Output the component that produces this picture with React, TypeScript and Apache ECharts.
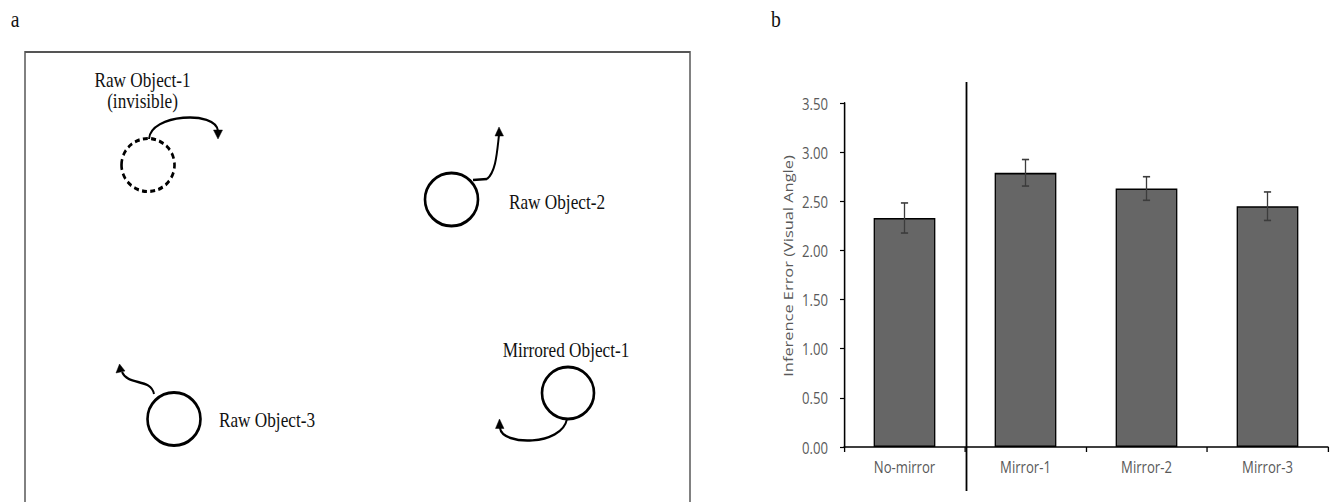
import React, { useEffect, useRef } from "react";
import * as echarts from "echarts";

// ---------- data ----------
const categories = ["No-mirror", "Mirror-1", "Mirror-2", "Mirror-3"];
const meanError = [2.33, 2.79, 2.63, 2.45];
const errorMargin = [0.153, 0.135, 0.12, 0.145];
const yMin = 0;
const yMax = 3.5;
const yStep = 0.5;
const yTitle = "Inference Error (Visual Angle)";
const panelLabels = ["a", "b"];
const objectLabels = ["Raw Object-1", "(invisible)", "Raw Object-2", "Raw Object-3", "Mirrored Object-1"];

// ---------- layout helpers ----------
const S = 0.82; // horizontal squeeze of the whole figure
const W = 1336;
const H = 502;
const IW = W / S;
const X = (v: number) => v / S;

const serif = '"Liberation Serif", "Times New Roman", serif';
const sans = '"Open Sans", "Noto Sans", sans-serif';

function txt(text: string, x: number, y: number, size: number, family: string, color = "#111", extra: any = {}) {
  return {
    type: "text",
    x: X(x),
    y,
    silent: true,
    ...extra,
    style: {
      text,
      fill: color,
      fontSize: size,
      fontFamily: family,
      align: "center",
      verticalAlign: "middle",
      textAlign: "center",
      textVerticalAlign: "middle",
    },
  };
}

function ring(cx: number, cy: number, r: number, dashed = false) {
  return {
    type: "ellipse",
    silent: true,
    shape: { cx: X(cx), cy, rx: X(r), ry: r },
    style: { fill: "none", stroke: "#000", lineWidth: 3.2, lineDash: dashed ? [6, 4] : null },
  };
}

function curve(p: number[][]) {
  const [a, c1, c2, b] = p;
  return {
    type: "bezierCurve",
    silent: true,
    shape: { x1: X(a[0]), y1: a[1], cpx1: X(c1[0]), cpy1: c1[1], cpx2: X(c2[0]), cpy2: c2[1], x2: X(b[0]), y2: b[1] },
    style: { fill: "none", stroke: "#000", lineWidth: 2.4 },
  };
}

function head(pts: number[][]) {
  return {
    type: "polygon",
    silent: true,
    shape: { points: pts.map((q) => [X(q[0]), q[1]]) },
    style: { fill: "#000", stroke: "#000", lineWidth: 0.5 },
  };
}

function buildOption() {
  const graphics: any[] = [
    // panel labels
    txt(panelLabels[0], 15, 19, 24, serif, "#111"),
    txt(panelLabels[1], 776, 19, 24, serif, "#111"),
    // panel a frame
    {
      type: "rect",
      silent: true,
      shape: { x: X(25), y: 52, width: X(665), height: 470 },
      style: { fill: "none", stroke: "#555", lineWidth: 1.8 },
    },
    // Raw Object-1 (invisible)
    txt(objectLabels[0], 142.5, 80, 21, serif),
    txt(objectLabels[1], 142.5, 101, 21, serif),
    ring(148, 165, 26.5, true),
    curve([[149, 139], [150, 114], [216, 110], [218, 131]]),
    head([[218, 139], [213.5, 130], [222.5, 130]]),
    // Raw Object-2
    ring(451.5, 199.5, 26.5),
    {
      type: "line",
      silent: true,
      shape: { x1: X(473), y1: 180, x2: X(487), y2: 179 },
      style: { stroke: "#000", lineWidth: 2.4 },
    },
    curve([[487, 179], [496, 172], [497, 152], [499, 135]]),
    head([[499, 127], [495, 136], [503.5, 136]]),
    txt(objectLabels[2], 557, 202, 21, serif),
    // Raw Object-3
    ring(174, 419, 26.5),
    curve([[154, 394], [151, 378], [128, 386], [122, 372]]),
    head([[119.5, 364], [116, 373], [125, 371]]),
    txt(objectLabels[3], 267, 420, 21, serif),
    // Mirrored Object-1
    ring(568, 393, 26),
    curve([[567, 419], [562, 446], [502, 446], [500, 428]]),
    head([[499.5, 419], [495.5, 428.5], [504, 428.5]]),
    txt(objectLabels[4], 566, 350, 21, serif),
    // panel b divider
    {
      type: "line",
      silent: true,
      shape: { x1: X(966.5), y1: 82, x2: X(966.5), y2: 491 },
      style: { stroke: "#000", lineWidth: 2.2 },
    },
    // y axis title
    txt(yTitle, 788, 266, 16.4, sans, "#595959", { rotation: Math.PI / 2 }),
  ];

  const errData = meanError.map((v, i) => [i, v, errorMargin[i]]);

  return {
    animation: false,
    backgroundColor: "#fff",
    textStyle: { fontFamily: sans },
    grid: { left: X(844), right: X(8), top: 103, bottom: 55, containLabel: false },
    xAxis: {
      type: "category",
      data: categories,
      axisLine: { show: true, lineStyle: { color: "#000", width: 1.6 } },
      axisTick: { show: true, length: 5, lineStyle: { color: "#000", width: 1.6 } },
      axisLabel: { color: "#595959", fontSize: 16, fontFamily: sans, margin: 11 },
      splitLine: { show: false },
    },
    yAxis: {
      type: "value",
      min: yMin,
      max: yMax,
      interval: yStep,
      axisLine: { show: true, lineStyle: { color: "#000", width: 1.9 } },
      axisTick: { show: true, length: X(4), lineStyle: { color: "#000", width: 1.2 } },
      axisLabel: {
        color: "#595959",
        fontSize: 16,
        fontFamily: sans,
        margin: X(16),
        formatter: (v: number) => v.toFixed(2),
      },
      splitLine: { show: false },
    },
    series: [
      {
        type: "bar",
        data: meanError,
        barWidth: "51%",
        itemStyle: { color: "#666666", borderColor: "#000", borderWidth: 1.6 },
        silent: true,
      },
      {
        type: "custom",
        data: errData,
        silent: true,
        z: 5,
        encode: { x: 0, y: 1 },
        renderItem: (params: any, api: any) => {
          const i = api.value(0);
          const v = api.value(1);
          const e = api.value(2);
          const top = api.coord([i, v + e]);
          const bot = api.coord([i, v - e]);
          const cap = X(3.6);
          const st = { stroke: "#3c3c3c", lineWidth: 1.6 };
          return {
            type: "group",
            children: [
              { type: "line", shape: { x1: top[0], y1: top[1], x2: bot[0], y2: bot[1] }, style: st },
              { type: "line", shape: { x1: top[0] - cap, y1: top[1], x2: top[0] + cap, y2: top[1] }, style: st },
              { type: "line", shape: { x1: bot[0] - cap, y1: bot[1], x2: bot[0] + cap, y2: bot[1] }, style: st },
            ],
          };
        },
      },
    ],
    graphic: { elements: graphics },
  };
}

export default function App() {
  const ref = useRef<HTMLDivElement>(null);
  useEffect(() => {
    if (!ref.current) return;
    const chart = echarts.init(ref.current, null, { renderer: "svg", width: IW, height: H });
    chart.setOption(buildOption() as any);
    return () => chart.dispose();
  }, []);
  return (
    <div style={{ position: "fixed", left: 0, top: 0, width: W, height: H, overflow: "hidden", background: "#fff" }}>
      <div
        ref={ref}
        style={{ width: IW, height: H, transform: `scaleX(${S})`, transformOrigin: "0 0" }}
      />
    </div>
  );
}
